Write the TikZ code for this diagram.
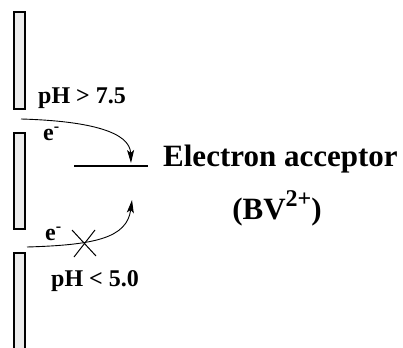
\documentclass[tikz,border=0pt]{standalone}
\usepackage{fontspec}
\setmainfont{Liberation Serif}
\usepackage{tikz}
\usetikzlibrary{arrows.meta, positioning, calc}

\begin{document}
\begin{tikzpicture}[
  x=1pt, y=-1pt,
  electrode/.style={draw, line width=1.1pt, fill=gray!15},
  phlabel/.style={anchor=base west, inner sep=0pt, font=\fontsize{24}{28}\selectfont\bfseries},
  elabel/.style={anchor=base west, inner sep=0pt, font=\fontsize{24}{28}\selectfont\bfseries},
  flow/.style={line width=0.9pt, -{Stealth[length=13pt, width=7pt, inset=3pt]}},
  >=Stealth
]
\useasboundingbox (0,0) rectangle (403,347);

% Electrode segments
\draw[electrode] (14,12) rectangle (25,109);
\draw[electrode] (14,133) rectangle (25,229);
\draw[electrode] (14,253) rectangle (25,350);

% Acceptor level
\coordinate (lvlL) at (74,166);
\coordinate (lvlR) at (148,166);
\draw[line width=1.6pt] (lvlL) -- (lvlR);

\node[anchor=base west, inner sep=0pt, font=\fontsize{31}{36}\selectfont\bfseries] (acc) at (163,167) {Electron acceptor};
\node[anchor=base, inner sep=0pt, font=\fontsize{31}{36}\selectfont\bfseries] (bv) at (277,219)
  {(BV\raisebox{13pt}{\fontsize{24}{24}\selectfont 2+})};

% Labels
\node[phlabel] (phhi) at (38,104) {pH > 7.5};
\node[phlabel] (phlo) at (51,286) {pH < 5.0};
\node[elabel] (e1) at (43,141) {e\raisebox{9pt}{\fontsize{16}{16}\selectfont -}};
\node[elabel] (e2) at (45,240) {e\raisebox{9pt}{\fontsize{16}{16}\selectfont -}};

% Electron transfer, high pH
\coordinate (src1) at (21,119);
\coordinate (tip1) at (131,163);
\draw[flow] (src1) .. controls (90,121) and (130,132) .. (tip1);

% Electron transfer, low pH (blocked)
\coordinate (src2) at (27,247);
\coordinate (tip2) at (132,200);
\draw[flow] (src2) .. controls (95,245) and (127,238) .. (tip2);
\coordinate (xc) at (84,243);
\draw[line width=1pt] ($(xc)+(-12,-13)$) -- ($(xc)+(12,13)$);
\draw[line width=1pt] ($(xc)+(-10,14)$) -- ($(xc)+(11,-13)$);
\end{tikzpicture}
\end{document}
